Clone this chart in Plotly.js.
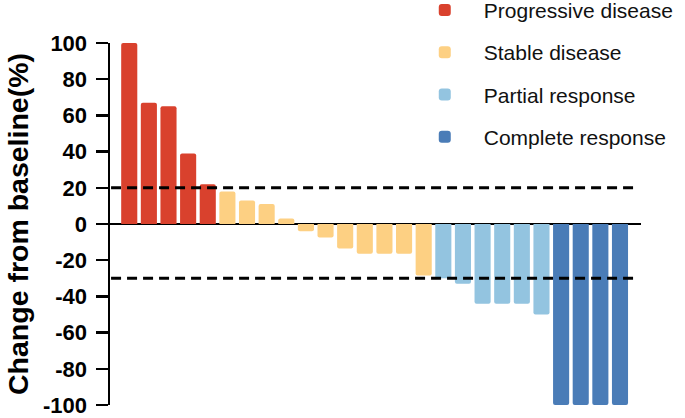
<!DOCTYPE html>
<html>
<head>
<meta charset="utf-8">
<script src="https://cdn.plot.ly/plotly-3.0.1.min.js"></script>
<style>html,body{margin:0;padding:0;background:#fff;}#chart{width:685px;height:418px;}</style>
</head>
<body>
<div id="chart"></div>
<script>
// Patients (waterfall order) and best change from baseline (%)
var pdX = [1, 2, 3, 4, 5];
var pdY = [100, 67, 65, 39, 22];
var sdX = [6, 7, 8, 9, 10, 11, 12, 13, 14, 15, 16];
var sdY = [18, 13, 11, 3, -4, -7.5, -13.5, -16.5, -16.5, -16.5, -28.5];
var prX = [17, 18, 19, 20, 21, 22];
var prY = [-30, -33, -44, -44, -44, -50];
var crX = [23, 24, 25, 26];
var crY = [-100, -100, -100, -100];
var groupNames = ["Progressive disease", "Stable disease", "Partial response", "Complete response"];
var groupColors = ["#D9412D", "#FDD083", "#93C4E0", "#4A7CB7"];
var yTicks = [100, 80, 60, 40, 20, 0, -20, -40, -60, -80, -100];
var thresholds = [20, -30];

var xs = [pdX, sdX, prX, crX];
var ys = [pdY, sdY, prY, crY];
var traces = xs.map(function (x, i) {
  return {
    type: "bar",
    x: x,
    y: ys[i],
    name: groupNames[i],
    legendgroup: "g" + i,
    width: 0.82,
    marker: {color: groupColors[i], cornerradius: 2, line: {width: 0}},
    hoverinfo: "x+y"
  };
});

var shapes = thresholds.map(function (v) {
  return {
    type: "line", xref: "paper", yref: "y",
    x0: 0.002, x1: 0.996, y0: v, y1: v,
    line: {color: "#000", width: 3, dash: "10px,6px"},
    layer: "above"
  };
});

var layout = {
  width: 685,
  height: 418,
  margin: {l: 110, r: 44, t: 43, b: 13, autoexpand: false},
  paper_bgcolor: "#fff",
  plot_bgcolor: "#fff",
  barmode: "overlay",
  showlegend: true,
  legend: {
    x: 0.557, xanchor: "left",
    y: 1.147, yanchor: "top",
    font: {family: "Liberation Sans, Arial, sans-serif", size: 21, color: "#111"},
    tracegroupgap: 12,
    itemwidth: 68,
    bgcolor: "rgba(0,0,0,0)"
  },
  xaxis: {
    range: [0.02, 27.07],
    showgrid: false, zeroline: false, showline: false,
    showticklabels: false, ticks: ""
  },
  yaxis: {
    range: [-100, 100],
    tickvals: yTicks,
    ticktext: yTicks.map(String),
    ticks: "outside", ticklen: 12, tickwidth: 2.5, tickcolor: "#000",
    showline: true, linewidth: 2.5, linecolor: "#000",
    showgrid: false,
    zeroline: true, zerolinecolor: "#000", zerolinewidth: 2.5,
    ticklabelstandoff: 4,
    tickfont: {family: "Liberation Sans, Arial, sans-serif", size: 22, color: "#000", weight: "bold"},
    title: {
      text: "Change from baseline(%)",
      font: {family: "Liberation Sans, Arial, sans-serif", size: 28.5, color: "#000", weight: "bold"},
      standoff: 6
    }
  },
  shapes: shapes
};

Plotly.newPlot("chart", traces, layout, {displayModeBar: false, staticPlot: true});
</script>
</body>
</html>
